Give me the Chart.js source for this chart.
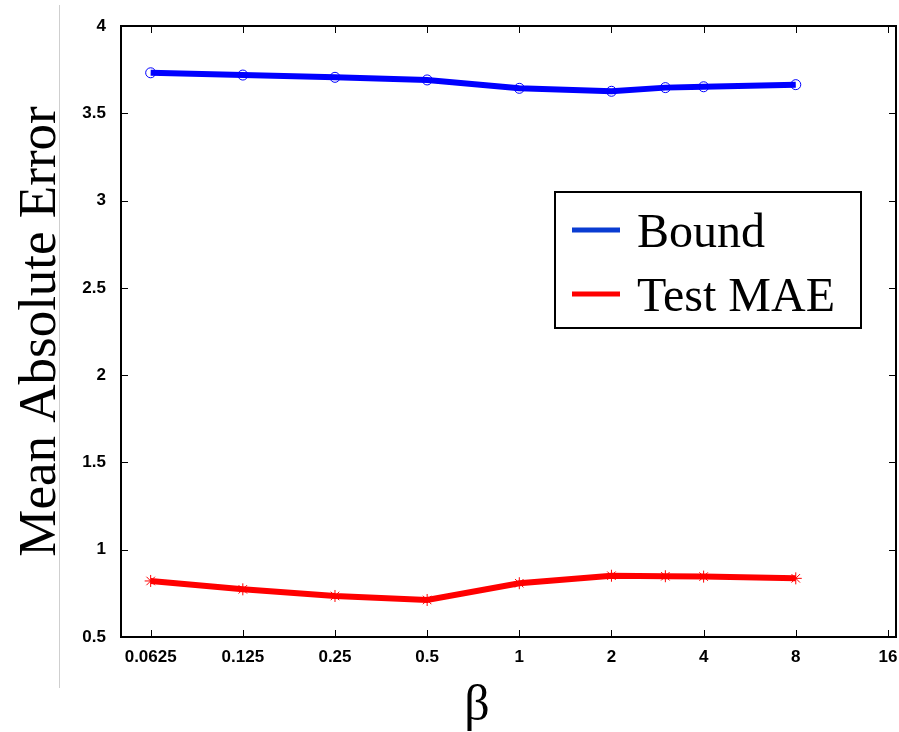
<!DOCTYPE html>
<html>
<head>
<meta charset="utf-8">
<script src="https://cdn.jsdelivr.net/npm/chart.js@4.4.1/dist/chart.umd.min.js"></script>
<style>
  html, body { margin: 0; padding: 0; background: #fff; }
</style>
</head>
<body>
<canvas id="myChart" width="899" height="732"></canvas>
<script>
// beta values (log2 spaced, plus one point at 3) and the two error curves
const betas = [0.0625, 0.125, 0.25, 0.5, 1, 2, 3, 4, 8];
const boundMae = [3.732, 3.719, 3.706, 3.691, 3.643, 3.626, 3.647, 3.652, 3.664];
const testMae = [0.821, 0.773, 0.735, 0.712, 0.808, 0.851, 0.848, 0.846, 0.836];
const xTicks = [0.0625, 0.125, 0.25, 0.5, 1, 2, 4, 8, 16];
const yTicks = [0.5, 1, 1.5, 2, 2.5, 3, 3.5, 4];

const tickFont = { family: "'Liberation Sans', Arial, sans-serif", size: 17, weight: "bold" };
const serif = "'Liberation Serif', 'Times New Roman', serif";

// matlab-like box with inward ticks, axis titles and the boxed legend
const axesBox = {
  id: "axesBox",
  beforeDraw(chart) {
    const ctx = chart.ctx;
    ctx.save();
    ctx.fillStyle = "#fff";
    ctx.fillRect(0, 0, chart.width, chart.height);
    // thin grey rule on the left edge
    ctx.strokeStyle = "#cfcfcf";
    ctx.lineWidth = 1;
    ctx.beginPath();
    ctx.moveTo(59.5, 5);
    ctx.lineTo(59.5, 688);
    ctx.stroke();
    ctx.restore();
  },
  afterDraw(chart) {
    const ctx = chart.ctx;
    const a = chart.chartArea;
    const x = chart.scales.x;
    const y = chart.scales.y;
    ctx.save();
    ctx.strokeStyle = "#000";
    ctx.lineWidth = 1;
    ctx.beginPath();
    xTicks.forEach(function (v) {
      const px = Math.round(x.getPixelForValue(v)) + 0.5;
      ctx.moveTo(px, a.bottom);
      ctx.lineTo(px, a.bottom - 7);
      ctx.moveTo(px, a.top);
      ctx.lineTo(px, a.top + 7);
    });
    yTicks.forEach(function (v) {
      const py = Math.round(y.getPixelForValue(v)) + 0.5;
      ctx.moveTo(a.left, py);
      ctx.lineTo(a.left + 7, py);
      ctx.moveTo(a.right, py);
      ctx.lineTo(a.right - 7, py);
    });
    ctx.stroke();
    ctx.lineWidth = 2;
    ctx.strokeRect(a.left, a.top, a.right - a.left, a.bottom - a.top);

    // axis titles
    ctx.fillStyle = "#000";
    ctx.font = "53px " + serif;
    ctx.textAlign = "center";
    ctx.textBaseline = "alphabetic";
    ctx.save();
    ctx.translate(55, (a.top + a.bottom) / 2);
    ctx.rotate(-Math.PI / 2);
    ctx.fillText("Mean Absolute Error", 0, 0);
    ctx.restore();
    ctx.font = "50px " + serif;
    ctx.fillText("\u03b2", 477, 720);

    // legend
    const lg = { left: 555, top: 192, right: 861, bottom: 328 };
    ctx.fillStyle = "#fff";
    ctx.fillRect(lg.left, lg.top, lg.right - lg.left, lg.bottom - lg.top);
    ctx.lineWidth = 2;
    ctx.strokeStyle = "#000";
    ctx.strokeRect(lg.left, lg.top, lg.right - lg.left, lg.bottom - lg.top);
    const legendColors = ["#0a3cd2", "#ff0000"];
    const rows = [230, 294];
    ctx.font = "48px " + serif;
    ctx.textAlign = "left";
    chart.data.datasets.forEach(function (ds, i) {
      ctx.strokeStyle = legendColors[i];
      ctx.lineWidth = 5;
      ctx.beginPath();
      ctx.moveTo(572, rows[i]);
      ctx.lineTo(620, rows[i]);
      ctx.stroke();
      ctx.fillStyle = "#000";
      ctx.fillText(ds.label, 637, rows[i] + 17);
    });
    ctx.restore();
  },
};

new Chart(document.getElementById("myChart"), {
  type: "line",
  data: {
    datasets: [
      {
        label: "Bound",
        data: betas.map((b, i) => ({ x: b, y: boundMae[i] })),
        borderColor: "#0000ff",
        borderWidth: 6,
        pointStyle: "circle",
        pointRadius: 5,
        pointBorderWidth: 1,
        pointBorderColor: "#0000ff",
        pointBackgroundColor: "rgba(0,0,0,0)",
        tension: 0,
      },
      {
        label: "Test MAE",
        data: betas.map((b, i) => ({ x: b, y: testMae[i] })),
        borderColor: "#ff0000",
        borderWidth: 6,
        pointStyle: "star",
        pointRadius: 6,
        pointBorderWidth: 1,
        pointBorderColor: "#ff0000",
        pointBackgroundColor: "#ff0000",
        tension: 0,
      },
    ],
  },
  options: {
    responsive: false,
    animation: false,
    layout: { autoPadding: false, padding: { top: 26, right: 3, left: 0, bottom: 0 } },
    plugins: {
      legend: { display: false },
      tooltip: { enabled: false },
    },
    scales: {
      x: {
        type: "logarithmic",
        min: 0.05,
        max: 17,
        grid: { display: false },
        border: { display: false },
        afterBuildTicks: function (scale) {
          scale.ticks = xTicks.map((v) => ({ value: v }));
        },
        afterFit: function (scale) {
          scale.height = 95;
          scale.paddingLeft = 0;
          scale.paddingRight = 0;
        },
        ticks: {
          autoSkip: false,
          maxRotation: 0,
          padding: 2,
          color: "#000",
          font: tickFont,
          callback: (v) => String(v),
        },
      },
      y: {
        min: 0.5,
        max: 4,
        grid: { display: false },
        border: { display: false },
        afterBuildTicks: function (scale) {
          scale.ticks = yTicks.map((v) => ({ value: v }));
        },
        afterFit: function (scale) {
          scale.width = 121;
          scale.paddingTop = 0;
          scale.paddingBottom = 0;
        },
        ticks: {
          padding: 7,
          color: "#000",
          font: tickFont,
          callback: (v) => String(v),
        },
      },
    },
  },
  plugins: [axesBox],
});
</script>
</body>
</html>
